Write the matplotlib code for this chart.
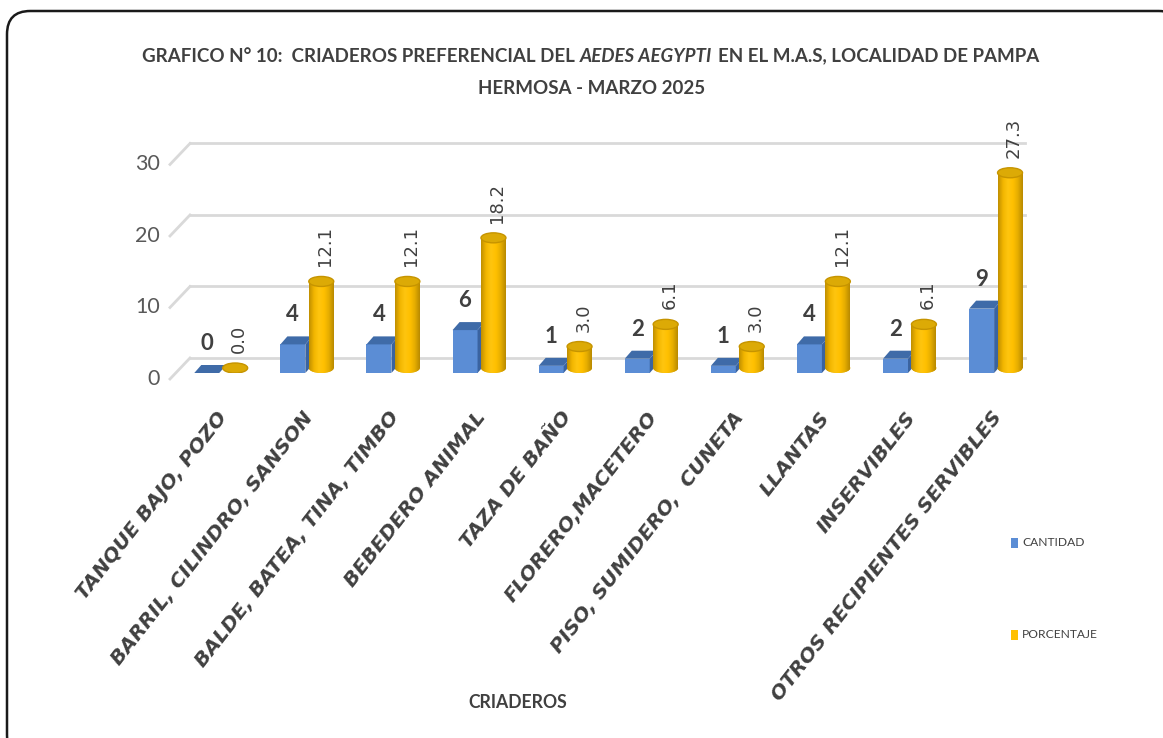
import numpy as np
import matplotlib
matplotlib.use('Agg')
import matplotlib.pyplot as plt
from matplotlib.font_manager import FontProperties
from matplotlib.patches import Polygon, Ellipse, FancyBboxPatch
from matplotlib.transforms import ScaledTranslation
from matplotlib.colors import LinearSegmentedColormap

# datos
criaderos = ['TANQUE BAJO, POZO', 'BARRIL, CILINDRO, SANSON', 'BALDE, BATEA, TINA, TIMBO',
             'BEBEDERO ANIMAL', 'TAZA DE BAÑO', 'FLORERO,MACETERO', 'PISO, SUMIDERO,  CUNETA',
             'LLANTAS', 'INSERVIBLES', 'OTROS RECIPIENTES SERVIBLES']
cantidad = [0, 4, 4, 6, 1, 2, 1, 4, 2, 9]
porcentaje = [0.0, 12.1, 12.1, 18.2, 3.0, 6.1, 3.0, 12.1, 6.1, 27.3]
yticks = [0, 10, 20, 30]

plt.rcParams['font.family'] = ['Lato', 'DejaVu Sans']
cat_fp = FontProperties(family='DejaVu Sans', weight='bold', style='oblique', size=14)

W, H = 1163, 738
fig = plt.figure(figsize=(W / 100, H / 100), dpi=100)
fig.canvas.draw()
r = fig.canvas.get_renderer()

def px(x, y):
    return x / W, 1 - y / H

def width(s, **kw):
    t = fig.text(0, 0, s, **kw)
    w = t.get_window_extent(r).width
    t.remove()
    return w

def fit(s, target, size=15, **kw):
    return size * target / width(s, fontsize=size, **kw)

# marco redondeado
fig.patches.append(FancyBboxPatch((7 / W, -20 / H), 1175 / W, (H - 11 + 20) / H,
                                  boxstyle='round,pad=0,rounding_size=0.02',
                                  transform=fig.transFigure, fc='white', ec='#1a1a1a',
                                  lw=1.8, zorder=-5, mutation_aspect=W / H))

ax = fig.add_axes([170 / W, (H - 373) / H, 865 / W, 236 / H])
ax.set_xlim(-0.592, 9.455)
ax.set_ylim(0, 33)
ax.axis('off')
x0, x_end = -0.592, 9.105

def off(dx, dy):
    return ax.transData + ScaledTranslation(dx / 100, dy / 100, fig.dpi_scale_trans)

grid_c = '#d9d9d9'
for v in yticks:
    ax.plot([x0, x_end], [v, v], color=grid_c, lw=2, transform=off(20, 15), clip_on=False, zorder=0)
    # diagonal del piso/pared
    pf = off(0, -6).transform((x0, v))
    pb = off(20, 15).transform((x0, v))
    fig.add_artist(plt.Line2D([pf[0] / W, pb[0] / W], [pf[1] / H, pb[1] / H],
                              color=grid_c, lw=2, transform=fig.transFigure, zorder=0))
    ax.text(x0, v, str(v), transform=off(-10, -6), ha='right', va='center',
            fontsize=15.5, color='#595959', clip_on=False)

bw = 0.29
dxb = 7 / 86.1
dyb = 8 / 7.15
ell_h = 10 / 7.15
cyl_base = 0.7

blue_front = '#5b8dd5'
blue_top = '#3f6ba8'
blue_side = '#3a63a0'
gold_cmap = LinearSegmentedColormap.from_list('g', ['#c08f00', '#f2b600', '#ffc50f', '#ffc000', '#e6ad00', '#b98a00'])

cat_fp.set_size(14 * 362 / width(criaderos[-1], fontproperties=cat_fp))

for i in range(len(criaderos)):
    xb = i - 0.165
    xg = i + 0.165
    c = cantidad[i]
    p = porcentaje[i]
    # caja azul
    if c > 0:
        ax.bar(xb, c, width=bw, color=blue_front, zorder=2)
        ax.add_patch(Polygon([(xb + bw / 2, 0), (xb + bw / 2 + dxb, dyb), (xb + bw / 2 + dxb, c + dyb), (xb + bw / 2, c)],
                             closed=True, fc=blue_side, ec='none', zorder=2))
    ax.add_patch(Polygon([(xb - bw / 2, c), (xb + bw / 2, c), (xb + bw / 2 + dxb, c + dyb), (xb - bw / 2 + dxb, c + dyb)],
                         closed=True, fc=blue_top, ec='none', zorder=2))
    ax.text(xb, c, str(c), transform=off(0, 19), ha='center', va='bottom',
            fontsize=16, fontweight='bold', color='#404040', zorder=5)
    # cilindro dorado
    if p > 0:
        body = ax.bar(xg, p, bottom=cyl_base, width=bw, color='#ffc000', zorder=3)[0]
        bottom = Ellipse((xg, cyl_base), bw, ell_h, fc='#e0a800', ec='none', zorder=3)
        ax.add_patch(bottom)
        grad = np.linspace(0, 1, 64).reshape(1, -1)
        im = ax.imshow(grad, extent=[xg - bw / 2, xg + bw / 2, 0, p + cyl_base], aspect='auto',
                       cmap=gold_cmap, zorder=3.1, interpolation='bilinear')
        im.set_clip_path(body)
        im2 = ax.imshow(grad, extent=[xg - bw / 2, xg + bw / 2, cyl_base - ell_h / 2, cyl_base], aspect='auto',
                        cmap=gold_cmap, zorder=3.1, interpolation='bilinear')
        im2.set_clip_path(bottom)
    ax.add_patch(Ellipse((xg, p + cyl_base), bw, ell_h, fc='#dcaa06', ec='#c69400', lw=1.0, zorder=4))
    ax.text(xg, p + cyl_base, f'{p:.1f}', transform=off(4, 15), ha='center', va='bottom',
            rotation=90, fontsize=13, color='#404040', family='DejaVu Sans', zorder=5)
    # etiqueta de categoria
    ax.text(i, 0, criaderos[i], transform=off(-5, -35), ha='right', va='top', rotation=52,
            rotation_mode='anchor', fontproperties=cat_fp, color='#404040', clip_on=False)

ax.set_xlim(-0.592, 9.455)
ax.set_ylim(0, 33)

# titulo
pieces = [('GRAFICO N° 10:  CRIADEROS PREFERENCIAL DEL', 'normal'), ('AEDES AEGYPTI', 'italic'),
          ('EN EL M.A.S, LOCALIDAD DE PAMPA', 'normal')]
base = dict(fontweight='bold', fontsize=15)
sp = width('a a', **base) - width('aa', **base)
ws = [width(s, fontstyle=st, **base) for s, st in pieces]
scale = 897 / (sum(ws) + sp * (len(ws) - 1))
title_fs = 15 * scale
sp *= scale
ws = [w * scale for w in ws]
tkw = dict(fontsize=title_fs, fontweight='bold', color='#404040', va='center')
x = 591 - (sum(ws) + sp * (len(ws) - 1)) / 2
for (s, st), w in zip(pieces, ws):
    fig.text(*px(x, 56), s, fontstyle=st, ha='left', **tkw)
    x += w + sp
fig.text(*px(592, 89), 'HERMOSA - MARZO 2025', ha='center', **tkw)

fig.text(*px(518, 703), 'CRIADEROS', ha='center', va='center',
         fontsize=fit('CRIADEROS', 99, fontweight='bold'), fontweight='bold', color='#404040')

# leyenda
leg_fs = fit('CANTIDAD', 62, size=11)
for yy, lab, col in [(543, 'CANTIDAD', '#5b8dd5'), (635, 'PORCENTAJE', '#ffc000')]:
    fig.patches.append(plt.Rectangle(px(1011, yy + 5), 7 / W, 10 / H, transform=fig.transFigure,
                                     fc=col, ec='none'))
    fig.text(*px(1022, yy), lab, ha='left', va='center', fontsize=leg_fs, color='#404040')

fig.savefig('out.png', dpi=100)
